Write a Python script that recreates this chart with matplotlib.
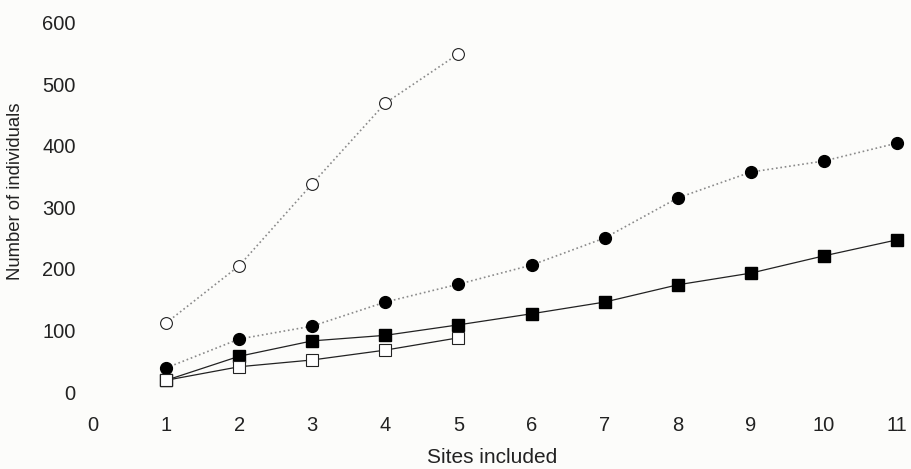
import matplotlib
matplotlib.use("Agg")
import matplotlib.pyplot as plt

plt.rcParams['font.family'] = ['Liberation Sans', 'DejaVu Sans']

sites = [1, 2, 3, 4, 5, 6, 7, 8, 9, 10, 11]
sites_short = [1, 2, 3, 4, 5]

open_circles = [112, 205, 338, 469, 549]
filled_circles = [39, 86, 107, 146, 175, 206, 250, 315, 357, 375, 404]
filled_squares = [19, 58, 83, 92, 109, 127, 146, 174, 193, 221, 247]
open_squares = [19, 41, 52, 68, 88]

xticks = list(range(0, 12))
yticks = [0, 100, 200, 300, 400, 500, 600]

bg = '#fcfcfa'
ink = '#222222'
fig = plt.figure(figsize=(9.11, 4.69), dpi=100, facecolor=bg)
ax = fig.add_axes([80 / 911, 1 - 410.5 / 469, 825 / 911, 400.5 / 469])
ax.set_facecolor(bg)

ms = 8.5
ax.plot(sites_short, open_circles, linestyle=':', color='#8a8a8a', lw=1.2,
        marker='o', ms=ms, mfc='white', mec=ink, mew=0.8, zorder=3)
ax.plot(sites, filled_circles, linestyle=':', color='#8a8a8a', lw=1.2,
        marker='o', ms=ms, mfc='black', mec='black', zorder=3)
ax.plot(sites, filled_squares, linestyle='-', color=ink, lw=0.9,
        marker='s', ms=ms, mfc='black', mec='black', zorder=3)
ax.plot(sites_short, open_squares, linestyle='-', color=ink, lw=0.9,
        marker='s', ms=ms, mfc='white', mec=ink, mew=0.8, zorder=4)

ax.set_xlim(-13 / 73.1, 11 + 8 / 73.1)
ax.set_ylim(-18.5 / 0.616, 382 / 0.616)
ax.set_xticks(xticks)
ax.set_yticks(yticks)
for s in ax.spines.values():
    s.set_visible(False)
ax.tick_params(length=0, labelsize=14.5, colors=ink)
ax.tick_params(axis='x', pad=4)
ax.tick_params(axis='y', pad=3)

ax.set_xlabel('Sites included', fontsize=15, color=ink, labelpad=9)
ax.set_ylabel('Number of individuals', fontsize=13.3, color=ink)
ax.yaxis.set_label_coords(-0.068, 0.548)

fig.savefig('out.png', dpi=100, facecolor=bg)
